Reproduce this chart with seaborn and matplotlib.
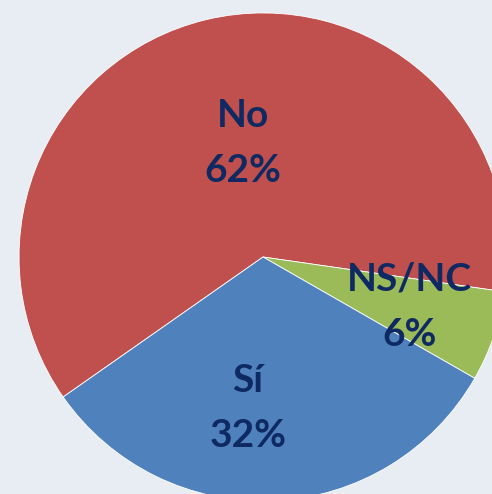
import matplotlib.pyplot as plt
import seaborn as sns

labels = ['No', 'NS/NC', 'Sí']
shares = [62, 6, 32]
colors = ['#C0504D', '#9BBB59', '#4F81BD']

sns.set_style('white')
plt.rcParams['font.family'] = ['Lato', 'DejaVu Sans']

fig = plt.figure(figsize=(4.92, 4.94), dpi=100, facecolor='#E8EDF4')
ax = fig.add_axes([0, 0, 1, 1])
ax.set_facecolor('#E8EDF4')

ax.pie(shares, colors=colors, startangle=215, counterclock=False,
       wedgeprops={'edgecolor': 'white', 'linewidth': 0.6})

# label positions inside each slice
label_pos = {'No': (-0.082, 0.467), 'NS/NC': (0.602, -0.205), 'Sí': (-0.061, -0.619)}
for lab, val in zip(labels, shares):
    x, y = label_pos[lab]
    ax.text(x, y, f'{lab}\n{val}%', ha='center', va='center', fontsize=28,
            fontweight='bold', color='#0F2A62', linespacing=1.7)

ax.set_xlim(-1.078, 0.9385)
ax.set_ylim(-0.971, 1.053)
ax.set_aspect('auto')
ax.axis('off')

fig.savefig('out.png', dpi=100, facecolor=fig.get_facecolor())
